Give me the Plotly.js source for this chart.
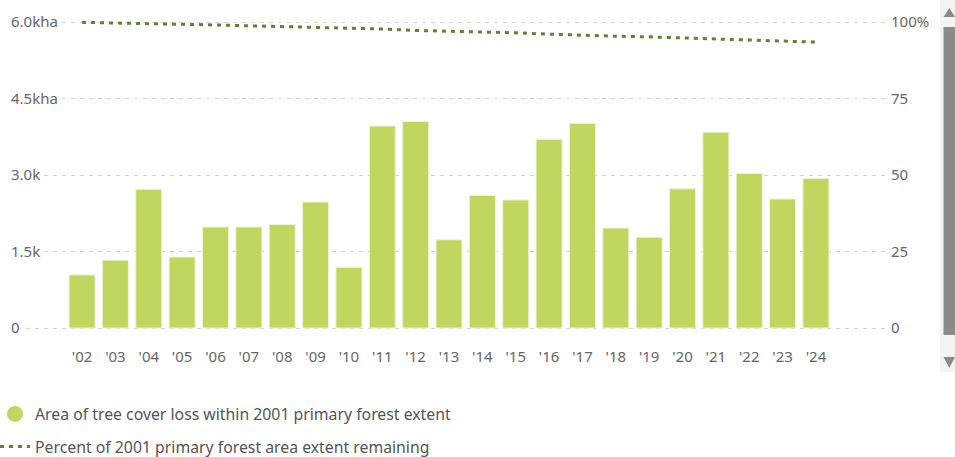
<!DOCTYPE html>
<html>
<head>
<meta charset="utf-8">
<script src="https://cdn.plot.ly/plotly-3.0.1.min.js"></script>
<style>
  html, body { margin: 0; padding: 0; background: #fff; }
  #chart { width: 955px; height: 457px; }
</style>
</head>
<body>
<div id="chart"></div>
<script>
// ---- data ----
const years = ["'02","'03","'04","'05","'06","'07","'08","'09","'10","'11","'12","'13","'14","'15","'16","'17","'18","'19","'20","'21","'22","'23","'24"];
const lossHa = [1040, 1330, 2720, 1390, 1980, 1980, 2030, 2470, 1190, 3960, 4050, 1730, 2600, 2510, 3700, 4010, 1960, 1780, 2730, 3840, 3030, 2530, 2930];
const percentRemaining = [99.88, 99.73, 99.42, 99.26, 99.03, 98.81, 98.57, 98.29, 98.16, 97.70, 97.24, 97.04, 96.74, 96.46, 96.03, 95.57, 95.35, 95.14, 94.83, 94.39, 94.04, 93.75, 93.42];
const leftTickVals = [0, 1500, 3000, 4500, 6000];
const leftTickText = ["0", "1.5k", "3.0k", "4.5kha", "6.0kha"];
const rightTickVals = [0, 25, 50, 75, 100];
const rightTickText = ["0", "25", "50", "75", "100%"];
const barName = "Area of tree cover loss within 2001 primary forest extent";
const lineName = "Percent of 2001 primary forest area extent remaining";

const FONT = "'Noto Sans', 'Open Sans', sans-serif";
const barColor = "#c0d65e";
const lineColor = "#5e8231";
const xRange = [-2.22, 24.13];

// plot area in page pixels
const TOP = 4, BOTTOM = 340, LEFT = 8, RIGHT = 887;
const Y0PX = 328, Y6PX = 22; // pixel rows of 0 and 6.0k / 100%
const unitsPerPxL = 6000 / (Y0PX - Y6PX);
const unitsPerPxR = 100 / (Y0PX - Y6PX);

const traces = [
  {
    type: "bar", x: years, y: lossHa, name: barName, showlegend: false,
    marker: { color: barColor, line: { color: "#eef4d4", width: 1 } },
    hoverinfo: "x+y"
  },
  {
    type: "scatter", mode: "markers", x: [null], y: [null], name: barName,
    marker: { color: barColor, size: 16, symbol: "circle" },
    legendgroup: "a", showlegend: true
  },
  {
    type: "scatter", mode: "lines", x: years, y: percentRemaining, yaxis: "y2",
    name: lineName, legendgroup: "b",
    line: { color: lineColor, width: 3, dash: "4px,5px" }
  }
];

// white patches behind left tick labels so grid lines start after them
const labelWidthUnits = [0.34, 1.0, 1.0, 1.6, 1.6];
const shapes = leftTickVals.map((v, i) => ({
  type: "rect", layer: "between", xref: "x", yref: "y",
  x0: xRange[0], x1: xRange[0] + labelWidthUnits[i], y0: v - 150, y1: v + 150,
  fillcolor: "#ffffff", line: { width: 0 }
}));
// scrollbar decoration (paper coords)
const py = p => (BOTTOM - p) / (BOTTOM - TOP);
const pxx = p => (p - LEFT) / (RIGHT - LEFT);
shapes.push(
  { type: "rect", xref: "paper", yref: "paper", x0: pxx(940), x1: pxx(960), y0: py(372), y1: py(-5),
    fillcolor: "#f3f3f3", line: { width: 0 }, layer: "above" },
  { type: "rect", xref: "paper", yref: "paper", x0: pxx(943.5), x1: pxx(955), y0: py(335), y1: py(27),
    fillcolor: "#8a8a8a", line: { width: 0 }, layer: "above" },
  { type: "path", xref: "paper", yref: "paper",
    path: `M ${pxx(943.5)} ${py(17)} L ${pxx(955)} ${py(17)} L ${pxx(949.3)} ${py(8)} Z`,
    fillcolor: "#8a8a8a", line: { width: 0 }, layer: "above" },
  { type: "path", xref: "paper", yref: "paper",
    path: `M ${pxx(943.5)} ${py(357)} L ${pxx(955)} ${py(357)} L ${pxx(949.3)} ${py(368)} Z`,
    fillcolor: "#8a8a8a", line: { width: 0 }, layer: "above" }
);

const layout = {
  width: 955, height: 457,
  margin: { l: LEFT, r: 955 - RIGHT, t: TOP, b: 457 - BOTTOM, pad: 0, autoexpand: false },
  paper_bgcolor: "#ffffff", plot_bgcolor: "#ffffff",
  font: { family: FONT, size: 15, color: "#666666" },
  bargap: 0.22,
  showlegend: true,
  xaxis: {
    type: "category", range: xRange,
    showgrid: false, zeroline: false, showline: false, ticks: "",
    ticklabelstandoff: 6,
    tickfont: { family: FONT, size: 15, color: "#666666" },
    fixedrange: true
  },
  yaxis: {
    range: [-(BOTTOM - Y0PX) * unitsPerPxL, 6000 + (Y6PX - TOP) * unitsPerPxL],
    tickvals: leftTickVals, ticktext: leftTickText,
    ticklabelposition: "inside", ticks: "",
    showgrid: true, gridcolor: "#d4d4d4", gridwidth: 1, griddash: "4px,5px",
    zeroline: false, showline: false,
    tickfont: { family: FONT, size: 15, color: "#666666" },
    fixedrange: true
  },
  yaxis2: {
    overlaying: "y", side: "right",
    range: [-(BOTTOM - Y0PX) * unitsPerPxR, 100 + (Y6PX - TOP) * unitsPerPxR],
    tickvals: rightTickVals, ticktext: rightTickText,
    showgrid: false, zeroline: false, showline: false, ticks: "",
    ticklabelstandoff: 3,
    tickfont: { family: FONT, size: 15, color: "#666666" },
    fixedrange: true
  },
  legend: {
    orientation: "v", x: -0.0148, xanchor: "left", y: -0.17, yanchor: "top",
    traceorder: "grouped", tracegroupgap: 9,
    font: { family: FONT, size: 15.8, color: "#555555" },
    bgcolor: "rgba(0,0,0,0)"
  },
  shapes: shapes
};

Plotly.newPlot("chart", traces, layout, { displayModeBar: false, staticPlot: true });
</script>
</body>
</html>
